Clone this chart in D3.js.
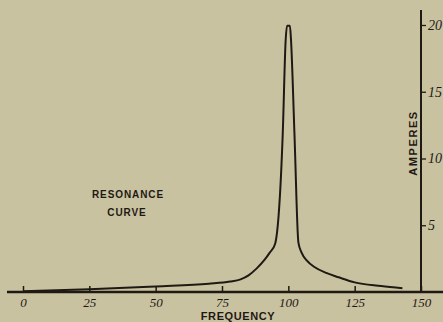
<!DOCTYPE html>
<html><head><meta charset="utf-8">
<script src="https://cdn.jsdelivr.net/npm/d3@7"></script>
<style>html,body{margin:0;padding:0;background:#c9c2a1;}svg{display:block;}</style>
</head><body>
<script>
const frequency = [0, 25, 50, 70, 78, 82, 85, 88, 91, 93, 95, 97.9, 99.0, 99.5, 100.6, 101.0, 102.3, 103.8, 105, 107, 110, 114, 119, 125, 135, 143];
const amperes   = [0.05, 0.2, 0.42, 0.62, 0.78, 0.95, 1.25, 1.75, 2.4, 2.95, 3.6, 11.9, 18.9, 19.95, 19.95, 18.9, 11.9, 3.7, 2.95, 2.35, 1.85, 1.45, 1.1, 0.72, 0.45, 0.28];
const xTicks = [0, 25, 50, 75, 100, 125, 150];
const yTicks = [5, 10, 15, 20];

const W = 443, H = 322;
const svg = d3.select("body").append("svg").attr("width", W).attr("height", H);
svg.append("rect").attr("width", W).attr("height", H).attr("fill", "#c9c2a1");

const x = d3.scaleLinear().domain([0, 150]).range([23, 421]);
const y = d3.scaleLinear().domain([0, 20]).range([292, 25]);
const ink = "#1f1914";

// x axis
const gx = svg.append("g").attr("transform", `translate(0,${y(0)})`)
  .call(d3.axisBottom(x).tickValues(xTicks).tickSize(-6).tickPadding(6).tickFormat(d3.format("d")));
gx.select(".domain").remove();
gx.selectAll(".tick line").attr("stroke", ink).attr("stroke-width", 1.5);
gx.selectAll(".tick text").attr("fill", ink)
  .style("font-family", "'Liberation Serif', serif").style("font-style", "italic").style("font-size", "13px");
svg.append("line").attr("x1", 7).attr("x2", W).attr("y1", y(0)).attr("y2", y(0))
  .attr("stroke", ink).attr("stroke-width", 2.5);

// y axis on right
const gy = svg.append("g").attr("transform", `translate(${x(150)},0)`)
  .call(d3.axisRight(y).tickValues(yTicks).tickSize(5).tickPadding(2).tickFormat(d3.format("d")));
gy.select(".domain").remove();
gy.selectAll(".tick line").attr("stroke", ink).attr("stroke-width", 1.3);
gy.selectAll(".tick text").attr("fill", ink)
  .style("font-family", "'Liberation Serif', serif").style("font-style", "italic").style("font-size", "14px");
svg.append("line").attr("x1", x(150)).attr("x2", x(150)).attr("y1", 10).attr("y2", y(0))
  .attr("stroke", ink).attr("stroke-width", 2);

// curve
const data = frequency.map((f, i) => [f, amperes[i]]);
svg.append("path").datum(data)
  .attr("fill", "none").attr("stroke", ink).attr("stroke-width", 2)
  .attr("stroke-linejoin", "round")
  .attr("d", d3.line().x(d => x(d[0])).y(d => y(d[1])).curve(d3.curveMonotoneX));

// labels
const lab = (t, px, py, size, ls, rot) => {
  const el = svg.append("text").text(t).attr("fill", ink)
    .attr("text-anchor", "middle")
    .style("font-family", "'Liberation Sans', Arial, sans-serif").style("font-weight", "bold")
    .style("font-size", size + "px").style("letter-spacing", ls + "px");
  if (rot) el.attr("transform", `translate(${px},${py}) rotate(-90)`);
  else el.attr("x", px).attr("y", py);
  return el;
};
lab("RESONANCE", 128, 198, 10, 0.9);
lab("CURVE", 127, 216, 10, 0.9);
lab("FREQUENCY", 238, 320, 11, 0.6);
lab("AMPERES", 416.5, 143, 11, 1.6, true);
</script>
</body></html>
